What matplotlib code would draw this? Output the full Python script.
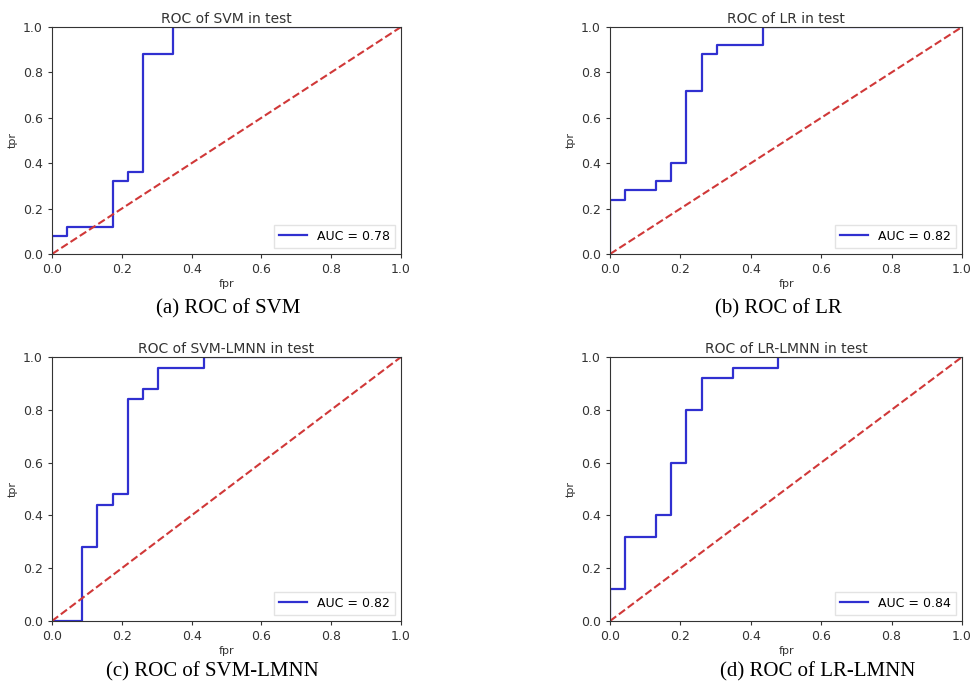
"""
ROC curves of four classifiers on the test set
"""
import matplotlib.pyplot as plt

# step curves
svm_fpr = [0.0, 0.0, 0.043, 0.043, 0.174, 0.174, 0.217, 0.217, 0.261, 0.261, 0.348, 0.348, 1.0]
svm_tpr = [0.0, 0.08, 0.08, 0.12, 0.12, 0.32, 0.32, 0.36, 0.36, 0.88, 0.88, 1.0, 1.0]

lr_fpr = [0.0, 0.0, 0.043, 0.043, 0.13, 0.13, 0.174, 0.174, 0.217, 0.217, 0.261, 0.261,
          0.304, 0.304, 0.435, 0.435, 1.0]
lr_tpr = [0.0, 0.24, 0.24, 0.28, 0.28, 0.32, 0.32, 0.40, 0.40, 0.72, 0.72, 0.88,
          0.88, 0.92, 0.92, 1.0, 1.0]

svm_lmnn_fpr = [0.0, 0.087, 0.087, 0.13, 0.13, 0.174, 0.174, 0.217, 0.217, 0.261, 0.261,
                0.304, 0.304, 0.435, 0.435, 1.0]
svm_lmnn_tpr = [0.0, 0.0, 0.28, 0.28, 0.44, 0.44, 0.48, 0.48, 0.84, 0.84, 0.88,
                0.88, 0.96, 0.96, 1.0, 1.0]

lr_lmnn_fpr = [0.0, 0.0, 0.043, 0.043, 0.13, 0.13, 0.174, 0.174, 0.217, 0.217, 0.261, 0.261,
               0.348, 0.348, 0.478, 0.478, 1.0]
lr_lmnn_tpr = [0.0, 0.12, 0.12, 0.32, 0.32, 0.40, 0.40, 0.60, 0.60, 0.80, 0.80, 0.92,
               0.92, 0.96, 0.96, 1.0, 1.0]

names = ['SVM', 'LR', 'SVM-LMNN', 'LR-LMNN']
aucs = [0.78, 0.82, 0.82, 0.84]
captions = ['(a) ROC of SVM', '(b) ROC of LR', '(c) ROC of SVM-LMNN', '(d) ROC of LR-LMNN']
curves = [(svm_fpr, svm_tpr), (lr_fpr, lr_tpr), (svm_lmnn_fpr, svm_lmnn_tpr), (lr_lmnn_fpr, lr_lmnn_tpr)]

fig = plt.figure(figsize=(9.74, 6.88), dpi=100)

boxes = [
    [0.0534, 0.6308, 0.3583, 0.330],
    [0.6263, 0.6308, 0.3614, 0.330],
    [0.0534, 0.0974, 0.3583, 0.3837],
    [0.6263, 0.0974, 0.3614, 0.3837],
]
cap_pos = [(228 / 974, 1 - 309 / 688), (778 / 974, 1 - 309 / 688),
           (212 / 974, 1 - 672 / 688), (818 / 974, 1 - 672 / 688)]

for i in range(4):
    ax = fig.add_axes(boxes[i])
    fpr, tpr = curves[i]
    ax.plot(fpr, tpr, color='#3030d0', linewidth=1.6, label='AUC = %0.2f' % aucs[i])
    ax.plot([0, 1], [0, 1], '--', color='#d03838', linewidth=1.5)
    ax.set_xlim(0, 1)
    ax.set_ylim(0, 1)
    ax.set_title('ROC of %s in test' % names[i], fontsize=10, color='#333333', pad=3)
    ax.set_xlabel('fpr', fontsize=8, color='#333333', labelpad=2)
    ax.set_ylabel('tpr', fontsize=8, color='#333333', labelpad=4)
    ax.tick_params(labelsize=9, colors='#333333', length=3)
    leg = ax.legend(loc='lower right', fontsize=9, handlelength=2.2, fancybox=False)
    leg.get_frame().set_edgecolor('#dddddd')
    for s in ax.spines.values():
        s.set_color('#333333')
    fig.text(cap_pos[i][0], cap_pos[i][1], captions[i], ha='center', va='center',
             fontsize=15, family='Liberation Serif')

plt.savefig('out.png')
